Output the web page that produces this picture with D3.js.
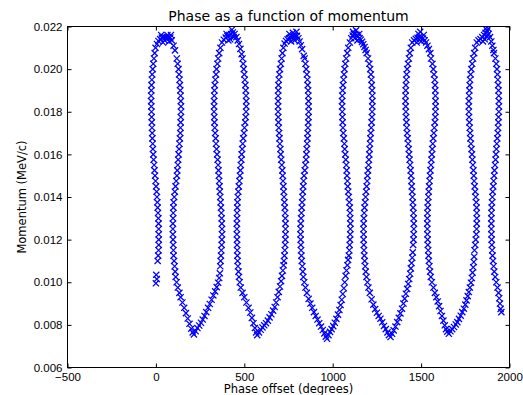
<!DOCTYPE html>
<html>
<head>
<meta charset="utf-8">
<script src="https://d3js.org/d3.v7.min.js"></script>
<style>
	body { margin: 0; background: #fff; }
	svg { display: block; font-family: 'DejaVu Sans', sans-serif; }
	.tick text { font-size: 11.5px; fill: #000; }
	.tick line { stroke: #000; stroke-width: 1; }
</style>
</head>
<body>
<div id="chart"></div>
<script>
// [phase offset (degrees), momentum (MeV/c)], one array per loop
const loop1 = [
	[0,0.00995],[5,0.01015],[2,0.01035],
	[10,0.01100],[13,0.01125],[15,0.01150],[16,0.01175],[16,0.01200],[16,0.01225],[16,0.01250],[15,0.01275],[14,0.01300],[12,0.01325],[10,0.01350],[8,0.01375],[6,0.01400],[4,0.01425],[1,0.01450],[-2,0.01475],[-5,0.01500],[-8,0.01525],[-10,0.01550],[-13,0.01575],[-15,0.01600],[-17,0.01625],[-18,0.01650],[-20,0.01675],[-21,0.01700],[-22,0.01725],[-23,0.01750],[-24,0.01775],[-25,0.01800],[-26,0.01825],[-27,0.01850],[-27,0.01875],[-26,0.01900],[-25,0.01925],[-23,0.01950],[-21,0.01975],[-18,0.02000],[-15,0.02025],[-11,0.02050],[-7,0.02075],[-2,0.02100],
	[6,0.02118],[14,0.02132],[24,0.02141],[34,0.02148],[44,0.02150],[53,0.02148],[62,0.02150],[71,0.02148],[81,0.02148],[90,0.02135],[100,0.02110],[108,0.02088],[30,0.02160],[50,0.02135],[65,0.02160],[75,0.02130],[40,0.02125],[85,0.02160],
	[118,0.02050],[123,0.02025],[128,0.02000],[131,0.01975],[134,0.01950],[136,0.01925],[138,0.01900],[140,0.01875],[141,0.01850],[142,0.01825],[142,0.01800],[141,0.01775],[140,0.01750],[139,0.01725],[138,0.01700],[136,0.01675],[133,0.01650],[131,0.01625],[128,0.01600],[126,0.01575],[124,0.01550],[121,0.01525],[119,0.01500],[115,0.01475],[111,0.01450],[107,0.01425],[104,0.01400],[100,0.01375],[99,0.01350],[98,0.01325],[97,0.01300],[96,0.01275],[96,0.01250],[96,0.01225],[97,0.01200],[98,0.01175],[99,0.01150],[100,0.01125],[103,0.01100],[106,0.01075],[109,0.01050],[112,0.01025],[117,0.01000],[124,0.00975],[133,0.00950],
	[140,0.00930],[150,0.00905],[160,0.00880],[170,0.00855],[180,0.00830],[190,0.00805],[200,0.00782],[208,0.00765],[215,0.00755],[225,0.00770],[235,0.00785],[245,0.00797],[255,0.00810],[265,0.00825],[275,0.00842],[285,0.00860],[295,0.00880],[305,0.00898],[315,0.00918],[325,0.00938],[335,0.00957],[344,0.00977],[352,0.00998],[358,0.01020],[362,0.01042]
];
const loop2 = [
	[364,0.01075],[366,0.01100],[368,0.01125],[370,0.01150],[372,0.01175],[373,0.01200],[374,0.01225],[374,0.01250],[373,0.01275],[372,0.01300],[370,0.01325],[368,0.01350],[366,0.01375],[364,0.01400],[362,0.01425],[360,0.01450],[358,0.01475],[356,0.01500],[354,0.01525],[352,0.01550],[349,0.01575],[346,0.01600],[343,0.01625],[340,0.01650],[338,0.01675],[335,0.01700],[333,0.01725],[331,0.01750],[330,0.01775],[329,0.01800],[329,0.01825],[329,0.01850],[330,0.01875],[331,0.01900],[333,0.01925],[336,0.01950],[340,0.01975],[343,0.02000],[348,0.02025],[352,0.02050],[358,0.02075],[365,0.02100],[374,0.02125],
	[384,0.02138],[395,0.02148],[405,0.02155],[415,0.02160],[425,0.02165],[435,0.02172],[445,0.02165],[455,0.02150],[463,0.02135],[470,0.02118],[478,0.02095],[485,0.02070],[420,0.02140],[440,0.02150],[430,0.02185],[410,0.02135],[400,0.02165],
	[490,0.02050],[494,0.02025],[497,0.02000],[500,0.01975],[503,0.01950],[506,0.01925],[508,0.01900],[510,0.01875],[511,0.01850],[511,0.01825],[510,0.01800],[508,0.01775],[505,0.01750],[501,0.01725],[498,0.01700],[494,0.01675],[491,0.01650],[488,0.01625],[485,0.01600],[483,0.01575],[480,0.01550],[478,0.01525],[475,0.01500],[472,0.01475],[469,0.01450],[466,0.01425],[463,0.01400],[461,0.01375],[460,0.01350],[459,0.01325],[459,0.01300],[458,0.01275],[458,0.01250],[458,0.01225],[459,0.01200],[459,0.01175],[460,0.01150],[461,0.01125],[462,0.01100],[464,0.01075],[467,0.01050],[470,0.01025],[474,0.01000],[480,0.00975],[490,0.00950],
	[500,0.00930],[512,0.00905],[524,0.00880],[534,0.00858],[543,0.00833],[552,0.00808],[560,0.00785],[567,0.00765],[573,0.00752],[583,0.00765],[593,0.00777],[603,0.00788],[613,0.00798],[623,0.00808],[633,0.00820],[643,0.00835],[653,0.00850],[663,0.00867],[672,0.00884],[680,0.00905],[688,0.00930],[695,0.00955],[702,0.00980],[708,0.01005],[713,0.01030],[718,0.01055],[722,0.01080]
];
const loop3 = [
	[724,0.01100],[727,0.01125],[729,0.01150],[731,0.01175],[732,0.01200],[733,0.01225],[733,0.01250],[733,0.01275],[732,0.01300],[731,0.01325],[729,0.01350],[727,0.01375],[725,0.01400],[723,0.01425],[721,0.01450],[719,0.01475],[717,0.01500],[715,0.01525],[712,0.01550],[709,0.01575],[706,0.01600],[704,0.01625],[701,0.01650],[699,0.01675],[697,0.01700],[695,0.01725],[693,0.01750],[692,0.01775],[691,0.01800],[691,0.01825],[691,0.01850],[691,0.01875],[692,0.01900],[693,0.01925],[695,0.01950],[698,0.01975],[702,0.02000],[707,0.02025],[711,0.02050],[716,0.02075],[721,0.02100],
	[728,0.02120],[736,0.02132],[745,0.02140],[753,0.02145],[761,0.02148],[770,0.02152],[779,0.02155],[788,0.02156],[798,0.02156],[806,0.02145],[813,0.02130],[820,0.02112],[827,0.02094],[836,0.02062],[765,0.02130],[785,0.02135],[775,0.02170],[795,0.02175],[755,0.02165],
	[841,0.02050],[846,0.02025],[850,0.02000],[854,0.01975],[857,0.01950],[859,0.01925],[861,0.01900],[862,0.01875],[863,0.01850],[864,0.01825],[864,0.01800],[863,0.01775],[862,0.01750],[860,0.01725],[859,0.01700],[857,0.01675],[855,0.01650],[853,0.01625],[851,0.01600],[849,0.01575],[845,0.01550],[842,0.01525],[838,0.01500],[835,0.01475],[833,0.01450],[831,0.01425],[829,0.01400],[827,0.01375],[825,0.01350],[823,0.01325],[821,0.01300],[819,0.01275],[818,0.01250],[818,0.01225],[819,0.01200],[820,0.01175],[821,0.01150],[823,0.01125],[825,0.01100],[828,0.01075],[831,0.01050],[834,0.01025],[839,0.01000],[846,0.00975],[854,0.00950],
	[864,0.00922],[874,0.00900],[884,0.00880],[894,0.00860],[904,0.00842],[914,0.00825],[924,0.00808],[934,0.00792],[944,0.00776],[953,0.00760],[961,0.00745],[968,0.00735],[976,0.00752],[985,0.00767],[994,0.00780],[1003,0.00794],[1012,0.00810],[1021,0.00828],[1030,0.00848],[1038,0.00870],[1045,0.00893],[1051,0.00918],[1057,0.00945],[1063,0.00972],[1068,0.01000],[1073,0.01030],[1078,0.01055],[1083,0.01080],[1087,0.01105]
];
const loop4 = [
	[1091,0.01125],[1094,0.01150],[1096,0.01175],[1098,0.01200],[1099,0.01225],[1100,0.01250],[1100,0.01275],[1099,0.01300],[1098,0.01325],[1097,0.01350],[1094,0.01375],[1091,0.01400],[1088,0.01425],[1085,0.01450],[1083,0.01475],[1081,0.01500],[1079,0.01525],[1077,0.01550],[1074,0.01575],[1071,0.01600],[1068,0.01625],[1066,0.01650],[1063,0.01675],[1060,0.01700],[1058,0.01725],[1056,0.01750],[1055,0.01775],[1054,0.01800],[1053,0.01825],[1053,0.01850],[1054,0.01875],[1056,0.01900],[1058,0.01925],[1061,0.01950],[1064,0.01975],[1067,0.02000],[1071,0.02025],[1076,0.02050],[1082,0.02075],[1088,0.02100],[1097,0.02125],
	[1105,0.02145],[1113,0.02158],[1120,0.02165],[1128,0.02165],[1136,0.02160],[1144,0.02152],[1152,0.02145],[1159,0.02138],[1166,0.02128],[1173,0.02117],[1180,0.02104],[1186,0.02090],[1125,0.02145],[1140,0.02135],[1150,0.02165],[1115,0.02175],[1132,0.02182],
	[1192,0.02075],[1200,0.02050],[1207,0.02025],[1212,0.02000],[1216,0.01975],[1219,0.01950],[1221,0.01925],[1223,0.01900],[1224,0.01875],[1224,0.01850],[1224,0.01825],[1223,0.01800],[1222,0.01775],[1220,0.01750],[1218,0.01725],[1215,0.01700],[1213,0.01675],[1211,0.01650],[1209,0.01625],[1207,0.01600],[1205,0.01575],[1203,0.01550],[1200,0.01525],[1197,0.01500],[1195,0.01475],[1192,0.01450],[1189,0.01425],[1186,0.01400],[1183,0.01375],[1180,0.01350],[1178,0.01325],[1176,0.01300],[1175,0.01275],[1174,0.01250],[1175,0.01225],[1175,0.01200],[1176,0.01175],[1177,0.01150],[1179,0.01125],[1181,0.01100],[1184,0.01075],[1187,0.01050],[1191,0.01025],[1196,0.01000],[1202,0.00975],[1210,0.00950],
	[1220,0.00920],[1230,0.00895],[1240,0.00874],[1250,0.00857],[1260,0.00842],[1270,0.00829],[1280,0.00812],[1290,0.00795],[1300,0.00780],[1310,0.00765],[1318,0.00752],[1327,0.00743],[1336,0.00758],[1345,0.00774],[1355,0.00792],[1365,0.00813],[1374,0.00833],[1383,0.00854],[1392,0.00876],[1400,0.00900],[1407,0.00923],[1414,0.00946],[1421,0.00969],[1427,0.00992],[1433,0.01015],[1438,0.01040],[1442,0.01065],[1446,0.01090],[1450,0.01115],[1453,0.01140]
];
const loop5 = [
	[1455,0.01175],[1457,0.01200],[1458,0.01225],[1459,0.01250],[1459,0.01275],[1458,0.01300],[1457,0.01325],[1455,0.01350],[1453,0.01375],[1451,0.01400],[1449,0.01425],[1447,0.01450],[1445,0.01475],[1443,0.01500],[1441,0.01525],[1438,0.01550],[1435,0.01575],[1432,0.01600],[1430,0.01625],[1427,0.01650],[1424,0.01675],[1421,0.01700],[1419,0.01725],[1417,0.01750],[1415,0.01775],[1414,0.01800],[1413,0.01825],[1412,0.01850],[1412,0.01875],[1413,0.01900],[1414,0.01925],[1416,0.01950],[1418,0.01975],[1421,0.02000],[1426,0.02025],[1431,0.02050],[1436,0.02075],[1442,0.02100],[1450,0.02125],
	[1460,0.02135],[1470,0.02142],[1480,0.02147],[1490,0.02150],[1500,0.02148],[1510,0.02144],[1520,0.02135],[1528,0.02125],[1536,0.02110],[1544,0.02094],[1552,0.02075],[1485,0.02165],[1500,0.02130],[1475,0.02125],[1515,0.02160],[1495,0.02175],
	[1556,0.02050],[1564,0.02025],[1569,0.02000],[1573,0.01975],[1577,0.01950],[1579,0.01925],[1580,0.01900],[1581,0.01875],[1582,0.01850],[1582,0.01825],[1581,0.01800],[1580,0.01775],[1578,0.01750],[1575,0.01725],[1572,0.01700],[1569,0.01675],[1566,0.01650],[1563,0.01625],[1561,0.01600],[1558,0.01575],[1556,0.01550],[1553,0.01525],[1550,0.01500],[1548,0.01475],[1545,0.01450],[1543,0.01425],[1541,0.01400],[1539,0.01375],[1537,0.01350],[1536,0.01325],[1535,0.01300],[1535,0.01275],[1535,0.01250],[1536,0.01225],[1537,0.01200],[1538,0.01175],[1540,0.01150],[1542,0.01125],[1544,0.01100],[1547,0.01075],[1551,0.01050],[1555,0.01025],[1561,0.01000],[1570,0.00975],[1578,0.00950],
	[1586,0.00930],[1594,0.00910],[1602,0.00888],[1610,0.00865],[1618,0.00842],[1626,0.00820],[1634,0.00798],[1641,0.00780],[1648,0.00768],[1657,0.00758],[1666,0.00770],[1676,0.00780],[1686,0.00790],[1696,0.00802],[1705,0.00813],[1714,0.00828],[1724,0.00843],[1733,0.00860],[1742,0.00876],[1750,0.00895],[1757,0.00915],[1764,0.00935],[1770,0.00954],[1776,0.00975],[1782,0.00998],[1787,0.01020],[1791,0.01045],[1795,0.01070],[1798,0.01095],[1800,0.01120]
];
const loop6 = [
	[1802,0.01150],[1806,0.01175],[1809,0.01200],[1812,0.01225],[1814,0.01250],[1815,0.01275],[1815,0.01300],[1815,0.01325],[1814,0.01350],[1812,0.01375],[1809,0.01400],[1806,0.01425],[1803,0.01450],[1800,0.01475],[1798,0.01500],[1796,0.01525],[1793,0.01550],[1790,0.01575],[1788,0.01600],[1785,0.01625],[1782,0.01650],[1779,0.01675],[1777,0.01700],[1775,0.01725],[1773,0.01750],[1771,0.01775],[1770,0.01800],[1770,0.01825],[1770,0.01850],[1771,0.01875],[1773,0.01900],[1775,0.01925],[1777,0.01950],[1780,0.01975],[1784,0.02000],[1789,0.02025],[1794,0.02050],[1800,0.02075],[1806,0.02100],[1815,0.02125],
	[1825,0.02135],[1836,0.02141],[1846,0.02150],[1856,0.02160],[1865,0.02170],[1874,0.02180],[1882,0.02165],[1890,0.02150],[1897,0.02130],[1903,0.02110],[1909,0.02090],[1850,0.02130],[1860,0.02140],[1870,0.02155],[1880,0.02190],[1865,0.02190],
	[1912,0.02075],[1920,0.02050],[1925,0.02025],[1929,0.02000],[1932,0.01975],[1934,0.01950],[1936,0.01925],[1938,0.01900],[1939,0.01875],[1940,0.01850],[1940,0.01825],[1940,0.01800],[1938,0.01775],[1937,0.01750],[1935,0.01725],[1934,0.01700],[1931,0.01675],[1928,0.01650],[1926,0.01625],[1923,0.01600],[1921,0.01575],[1918,0.01550],[1915,0.01525],[1913,0.01500],[1910,0.01475],[1908,0.01450],[1905,0.01425],[1903,0.01400],[1901,0.01375],[1899,0.01350],[1898,0.01325],[1897,0.01300],[1897,0.01275],[1897,0.01250],[1898,0.01225],[1899,0.01200],[1900,0.01175],[1902,0.01150],[1904,0.01125],[1907,0.01100],[1910,0.01075],[1914,0.01050],[1919,0.01025],[1925,0.01000],[1932,0.00975],[1938,0.00950],[1942,0.00925],[1946,0.00900],[1950,0.00875],[1954,0.00860]
];

const xTicks = [-500, 0, 500, 1000, 1500, 2000];
const yTicks = [0.006, 0.008, 0.010, 0.012, 0.014, 0.016, 0.018, 0.020, 0.022];

const title = 'Phase as a function of momentum';
const xLabel = 'Phase offset (degrees)';
const yLabel = 'Momentum (MeV/c)';

const width = 523;
const height = 395;
const plotLeft = 67.5, plotRight = 509.5, plotTop = 26.5, plotBottom = 367.5;

const svg = d3.select('#chart').append('svg')
	.attr('width', width)
	.attr('height', height);

const xScale = d3.scaleLinear().domain([-500, 2000]).range([plotLeft, plotRight]);
const yScale = d3.scaleLinear().domain([0.006, 0.022]).range([plotBottom, plotTop]);

svg.append('clipPath').attr('id', 'plot-clip')
	.append('rect')
	.attr('x', plotLeft).attr('y', plotTop)
	.attr('width', plotRight - plotLeft).attr('height', plotBottom - plotTop);

const points = [].concat(loop1, loop2, loop3, loop4, loop5, loop6);
const r = 3.1;

svg.append('g')
	.attr('clip-path', 'url(#plot-clip)')
	.selectAll('path')
	.data(points)
	.enter().append('path')
	.attr('d', 'M' + -r + ',' + -r + 'L' + r + ',' + r + 'M' + -r + ',' + r + 'L' + r + ',' + -r)
	.attr('transform', d => 'translate(' + xScale(d[0]) + ',' + yScale(d[1]) + ')')
	.attr('fill', 'none')
	.attr('stroke', '#0000ff')
	.attr('stroke-width', 1.25);

const fmtX = d => d < 0 ? '\u2212' + Math.abs(d) : '' + d;

// ticks point inward on all four sides
svg.append('g')
	.attr('transform', 'translate(0,' + plotBottom + ')')
	.call(d3.axisBottom(xScale).tickValues(xTicks).tickFormat(fmtX).tickSizeInner(-4).tickSizeOuter(0).tickPadding(5));
svg.append('g')
	.attr('transform', 'translate(0,' + plotTop + ')')
	.call(d3.axisTop(xScale).tickValues(xTicks).tickFormat('').tickSizeInner(-4).tickSizeOuter(0));
svg.append('g')
	.attr('transform', 'translate(' + plotLeft + ',0)')
	.call(d3.axisLeft(yScale).tickValues(yTicks).tickFormat(d3.format('.3f')).tickSizeInner(-4).tickSizeOuter(0).tickPadding(5));
svg.append('g')
	.attr('transform', 'translate(' + plotRight + ',0)')
	.call(d3.axisRight(yScale).tickValues(yTicks).tickFormat('').tickSizeInner(-4).tickSizeOuter(0));

svg.selectAll('.domain').remove();

svg.append('rect')
	.attr('x', plotLeft).attr('y', plotTop)
	.attr('width', plotRight - plotLeft).attr('height', plotBottom - plotTop)
	.attr('fill', 'none')
	.attr('stroke', '#000')
	.attr('stroke-width', 1);

svg.append('text')
	.attr('x', (plotLeft + plotRight) / 2).attr('y', 21)
	.attr('text-anchor', 'middle')
	.style('font-size', '14px')
	.text(title);

svg.append('text')
	.attr('x', (plotLeft + plotRight) / 2).attr('y', 392.5)
	.attr('text-anchor', 'middle')
	.style('font-size', '11.5px')
	.text(xLabel);

svg.append('text')
	.attr('transform', 'translate(25.5,' + (plotTop + plotBottom) / 2 + ') rotate(-90)')
	.attr('text-anchor', 'middle')
	.style('font-size', '11.5px')
	.text(yLabel);
</script>
</body>
</html>
